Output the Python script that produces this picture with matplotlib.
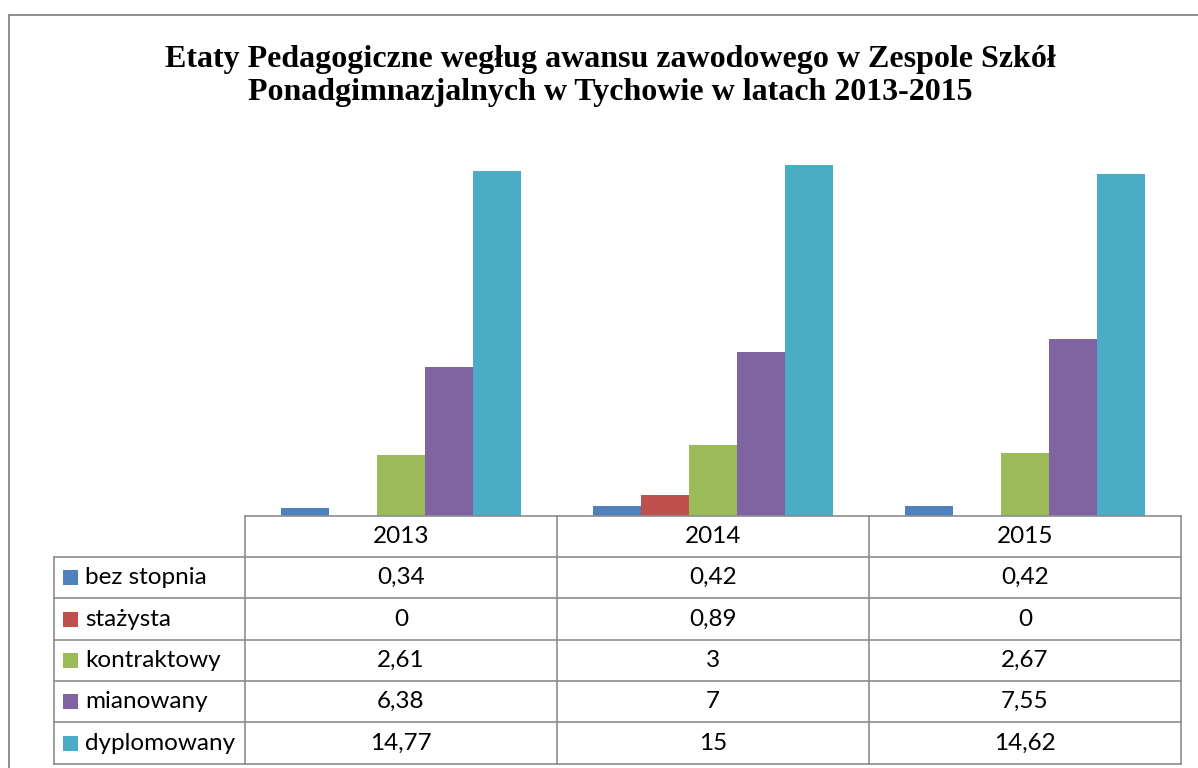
import numpy as np
import matplotlib.pyplot as plt
from matplotlib.patches import Rectangle

# Data
years = ["2013", "2014", "2015"]
series = ["bez stopnia", "stażysta", "kontraktowy", "mianowany", "dyplomowany"]
bez_stopnia = [0.34, 0.42, 0.42]
stazysta = [0, 0.89, 0]
kontraktowy = [2.61, 3, 2.67]
mianowany = [6.38, 7, 7.55]
dyplomowany = [14.77, 15, 14.62]
values = [bez_stopnia, stazysta, kontraktowy, mianowany, dyplomowany]
colors = ["#4F81BD", "#C0504D", "#9BBB59", "#8064A2", "#4BACC6"]

W, H = 1198, 768
fig = plt.figure(figsize=(W / 100, H / 100), dpi=100)
fig.patch.set_facecolor("white")

def fx(x):
    return x / W

def fy(y):
    return 1 - y / H

# table geometry (pixels)
col_x = [54, 245, 557, 869, 1181]
row_y = [515.5, 557, 598.3, 639.7, 681, 722.4, 763.8]
line_c = "#8c8c8c"

# bar axes sits on the table header
ax = fig.add_axes([fx(245), fy(515.5), fx(1181) - fx(245), fy(142) - fy(515.5)])
ax.set_xlim(0, 3)
ax.set_ylim(0, 16)
ax.axis("off")
bw = 48 / 312
x = np.arange(len(years)) + 0.5
for i, (vals, c) in enumerate(zip(values, colors)):
    ax.bar(x + (i - 2) * bw, vals, width=bw, color=c, linewidth=0)

# overlay for table and border, pixel coordinates
ov = fig.add_axes([0, 0, 1, 1], zorder=5)
ov.set_xlim(0, W)
ov.set_ylim(H, 0)
ov.axis("off")
ov.patch.set_alpha(0)

# outer chart border
ov.plot([9, 9], [H + 5, 15], color="#868686", lw=1.3)
ov.plot([9, W + 5], [15, 15], color="#868686", lw=1.3)

# title
ov.text(610, 76, "Etaty Pedagogiczne wegług awansu zawodowego w Zespole Szkół\n"
        "Ponadgimnazjalnych w Tychowie w latach 2013-2015",
        ha="center", va="center", family="Liberation Serif", fontweight="bold",
        fontsize=23, linespacing=1.15)

# horizontal lines
ov.plot([col_x[1], col_x[-1]], [row_y[0]] * 2, color=line_c, lw=1.2)
for y in row_y[1:]:
    ov.plot([col_x[0], col_x[-1]], [y, y], color=line_c, lw=1.2)
# vertical lines
ov.plot([col_x[0]] * 2, [row_y[1], row_y[-1]], color=line_c, lw=1.2)
for cx in col_x[1:]:
    ov.plot([cx, cx], [row_y[0], row_y[-1]], color=line_c, lw=1.2)

tfont = dict(family="Lato", fontsize=17.5, color="black")

# header
for j, yr in enumerate(years):
    cx = (col_x[j + 1] + col_x[j + 2]) / 2
    ov.text(cx, (row_y[0] + row_y[1]) / 2, yr, ha="center", va="center", **tfont)

# rows
for i, name in enumerate(series):
    cy = (row_y[i + 1] + row_y[i + 2]) / 2
    ov.add_patch(Rectangle((63, cy - 7.5), 15, 15, color=colors[i], lw=0))
    ov.text(85, cy, name, ha="left", va="center", **tfont)
    for j in range(len(years)):
        cx = (col_x[j + 1] + col_x[j + 2]) / 2
        s = ("%g" % values[i][j]).replace(".", ",")
        ov.text(cx, cy, s, ha="center", va="center", **tfont)

fig.savefig("out.png", dpi=100)
